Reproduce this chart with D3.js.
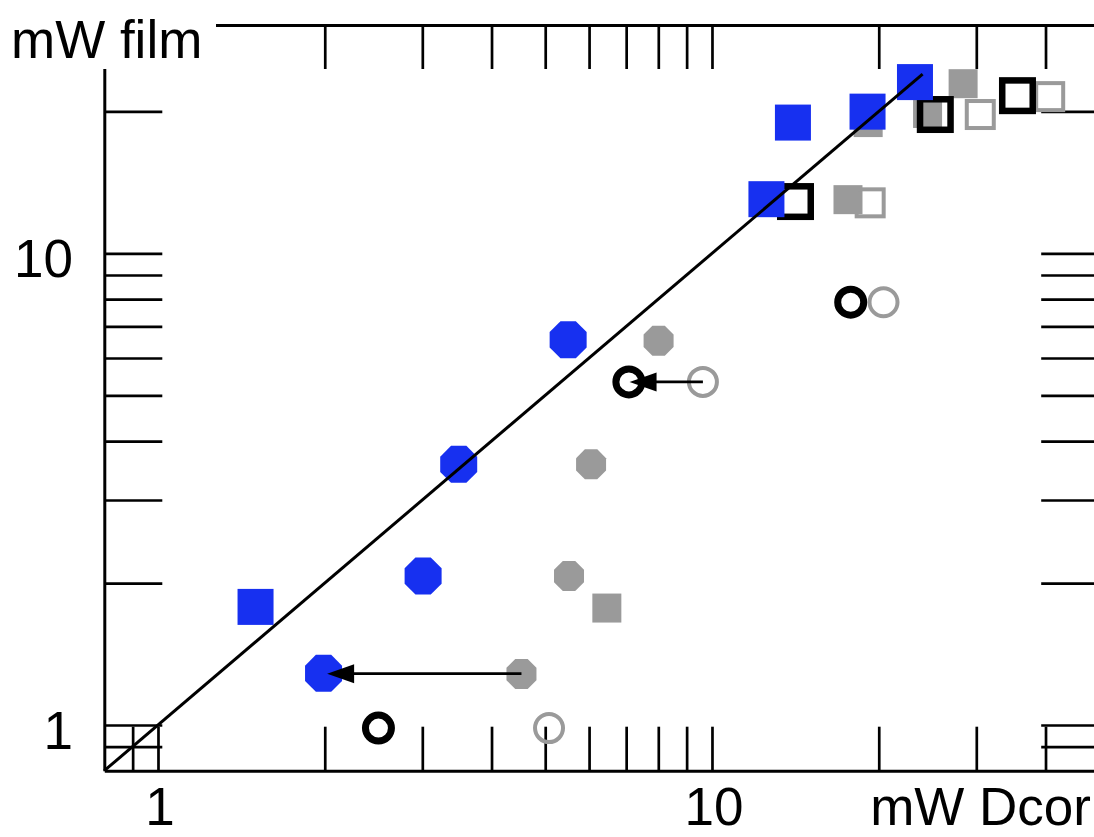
<!DOCTYPE html>
<html>
<head>
<meta charset="utf-8">
<script src="https://cdn.jsdelivr.net/npm/d3@7"></script>
<style>
  html, body { margin: 0; padding: 0; background: #fff; }
  svg { display: block; }
  text { font-family: "Liberation Sans", Arial, Helvetica, sans-serif; fill: #000; }
</style>
</head>
<body>
<svg id="chart" width="1094" height="837"></svg>
<script>
// ---- data ----
const blueSqX = [1.50, 12.54, 14.0, 19.09, 23.25];
const blueSqY = [1.78, 13.03, 18.94, 19.98, 23.08];

const grayFillSqX = [6.46, 17.6, 19.14, 24.5, 28.4];
const grayFillSqY = [1.77, 13.0, 18.94, 19.8, 22.9];

const blackOpenSqX = [14.15, 25.3, 35.6];
const blackOpenSqY = [12.88, 19.7, 21.6];

const grayOpenSqX = [19.3, 30.5, 40.7];
const grayOpenSqY = [12.8, 19.7, 21.5];

const blueOctX = [1.99, 3.01, 3.49, 5.50];
const blueOctY = [1.287, 2.07, 3.57, 6.56];

const grayOctX = [4.53, 5.52, 6.05, 8.01];
const grayOctY = [1.283, 2.07, 3.57, 6.53];

const blackCircX = [2.50, 7.08, 17.8];
const blackCircY = [0.985, 5.34, 7.88];

const grayCircX = [5.08, 9.63, 20.4];
const grayCircY = [0.985, 5.34, 7.88];

// arrows: [x, y] start (gray) and end (target)
const arrowFrom = [[4.53, 1.285], [9.63, 5.34]];
const arrowTo   = [[2.02, 1.285], [7.10, 5.34]];

const identityLine = [0.8, 24];

const xTicks = [0.9, 1, 2, 3, 4, 5, 6, 7, 8, 9, 10, 20, 30, 40];
const yTicks = [0.9, 1, 2, 3, 4, 5, 6, 7, 8, 9, 10, 20];
const xTickLabels = [1, 10];
const yTickLabels = [1, 10];
const xTitle = "mW Dcor";
const yTitle = "mW film";

// ---- layout ----
const svg = d3.select("#chart");
const x = d3.scaleLog().domain([0.8, 50]).range([104.3, 1099.2]);
const y = d3.scaleLog().domain([0.8, 30.5]).range([770.7, 25]);

const BLUE = "#1730f0", GRAY = "#9a9a9a", BLACK = "#000";
const zip = (a, b) => a.map((v, i) => [v, b[i]]);

function octagon(w) {
  const r = w / 2 / Math.cos(Math.PI / 8);
  const pts = d3.range(8).map(i => {
    const a = Math.PI / 8 + i * Math.PI / 4;
    return [r * Math.cos(a), r * Math.sin(a)];
  });
  return "M" + pts.map(p => p.join(",")).join("L") + "Z";
}

// ---- axes (ticks inward) ----
const axG = svg.append("g").attr("class", "axes");
function styleAxis(g) {
  g.selectAll("path.domain").attr("stroke", BLACK).attr("stroke-width", 3);
  g.selectAll(".tick line").attr("stroke", BLACK).attr("stroke-width", 2.7);
  g.selectAll(".tick text").remove();
}
axG.append("g").attr("transform", `translate(0,${y.range()[0]})`)
  .call(d3.axisBottom(x).tickValues(xTicks).tickSizeInner(-44).tickSizeOuter(0).tickFormat(""))
  .call(styleAxis);
axG.append("g").attr("transform", `translate(0,${y.range()[1]})`)
  .call(d3.axisTop(x).tickValues(xTicks).tickSizeInner(-44).tickSizeOuter(0).tickFormat(""))
  .call(styleAxis);
axG.append("g").attr("transform", `translate(${x.range()[0]},0)`)
  .call(d3.axisLeft(y).tickValues(yTicks).tickSizeInner(-58).tickSizeOuter(0).tickFormat(""))
  .call(styleAxis);
axG.append("g").attr("transform", `translate(${x.range()[1]},0)`)
  .call(d3.axisRight(y).tickValues(yTicks).tickSizeInner(-58).tickSizeOuter(0).tickFormat(""))
  .call(styleAxis);

// ---- markers ----
const mk = svg.append("g").attr("class", "marks");

// gray filled squares
mk.selectAll(".gfs").data(zip(grayFillSqX, grayFillSqY)).join("rect")
  .attr("x", d => x(d[0]) - 14.5).attr("y", d => y(d[1]) - 14.5)
  .attr("width", 29).attr("height", 29).attr("fill", GRAY);

// gray filled octagons
mk.selectAll(".gfo").data(zip(grayOctX, grayOctY)).join("path")
  .attr("d", octagon(30))
  .attr("transform", d => `translate(${x(d[0])},${y(d[1])})`)
  .attr("fill", GRAY);

// gray open squares
mk.selectAll(".gos").data(zip(grayOpenSqX, grayOpenSqY)).join("rect")
  .attr("x", d => x(d[0]) - 13.5).attr("y", d => y(d[1]) - 13.5)
  .attr("width", 27).attr("height", 27)
  .attr("fill", "none").attr("stroke", GRAY).attr("stroke-width", 4);

// gray open circles
mk.selectAll(".goc").data(zip(grayCircX, grayCircY)).join("circle")
  .attr("cx", d => x(d[0])).attr("cy", d => y(d[1])).attr("r", 14)
  .attr("fill", "none").attr("stroke", GRAY).attr("stroke-width", 4);

// black open squares
mk.selectAll(".bos").data(zip(blackOpenSqX, blackOpenSqY)).join("rect")
  .attr("x", d => x(d[0]) - 15.25).attr("y", d => y(d[1]) - 15.25)
  .attr("width", 30.5).attr("height", 30.5)
  .attr("fill", "none").attr("stroke", BLACK).attr("stroke-width", 6.5);

// black open circles
mk.selectAll(".boc").data(zip(blackCircX, blackCircY)).join("circle")
  .attr("cx", d => x(d[0])).attr("cy", d => y(d[1])).attr("r", 13)
  .attr("fill", "none").attr("stroke", BLACK).attr("stroke-width", 7);

// blue squares
mk.selectAll(".bs").data(zip(blueSqX, blueSqY)).join("rect")
  .attr("x", d => x(d[0]) - 18).attr("y", d => y(d[1]) - 18)
  .attr("width", 36).attr("height", 36).attr("fill", BLUE);

// blue octagons
mk.selectAll(".bo").data(zip(blueOctX, blueOctY)).join("path")
  .attr("d", octagon(37))
  .attr("transform", d => `translate(${x(d[0])},${y(d[1])})`)
  .attr("fill", BLUE);

// arrows
const arrowLen = 27, arrowHalf = 9.5;
arrowFrom.forEach((f, i) => {
  const t = arrowTo[i];
  const x0 = x(f[0]), y0 = y(f[1]), x1 = x(t[0]), y1 = y(t[1]);
  mk.append("line").attr("x1", x0).attr("y1", y0).attr("x2", x1 + arrowLen - 2).attr("y2", y1)
    .attr("stroke", BLACK).attr("stroke-width", 2.6);
  mk.append("path")
    .attr("d", `M${x1},${y1}L${x1 + arrowLen},${y1 - arrowHalf}L${x1 + arrowLen},${y1 + arrowHalf}Z`)
    .attr("fill", BLACK);
});

// identity line
mk.append("line")
  .attr("x1", x(identityLine[0])).attr("y1", y(identityLine[0]))
  .attr("x2", x(identityLine[1])).attr("y2", y(identityLine[1]))
  .attr("stroke", BLACK).attr("stroke-width", 3);

// ---- y title with white backing ----
svg.append("rect").attr("x", 0).attr("y", 0).attr("width", 216).attr("height", 69).attr("fill", "#fff");
svg.append("text").attr("x", 11).attr("y", 58).attr("font-size", 53).text(yTitle);

// ---- tick labels ----
svg.selectAll(".xl").data(xTickLabels).join("text")
  .attr("x", d => x(d) + 2).attr("y", 825).attr("text-anchor", "middle")
  .attr("font-size", 53).text(d => d);
svg.selectAll(".yl").data(yTickLabels).join("text")
  .attr("x", 73).attr("y", d => y(d) + 24).attr("text-anchor", "end")
  .attr("font-size", 53).text(d => d);

// x title
svg.append("text").attr("x", 1091).attr("y", 825).attr("text-anchor", "end")
  .attr("font-size", 53).text(xTitle);
</script>
</body>
</html>
